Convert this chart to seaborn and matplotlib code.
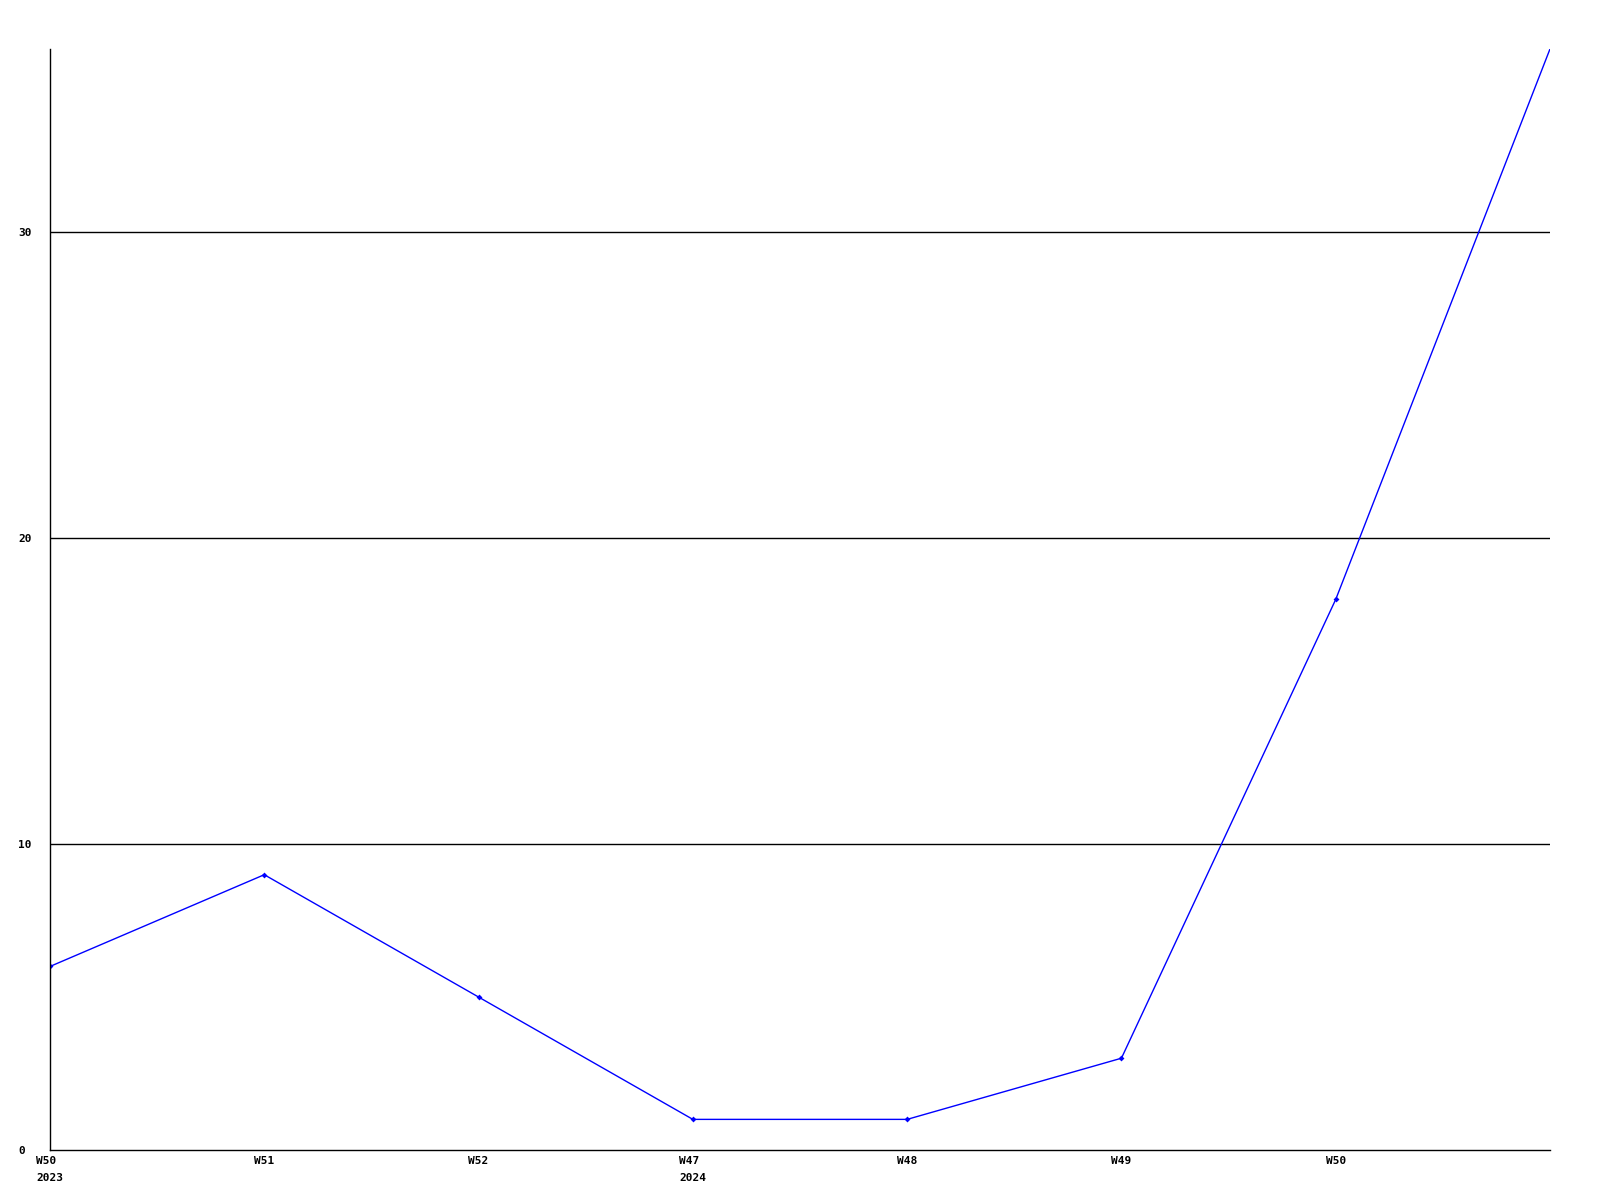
import matplotlib
matplotlib.use("Agg")
import matplotlib.pyplot as plt
import seaborn as sns
import pandas as pd

# Données
weeks = ["W50\n2023", "W51", "W52", "W47\n2024", "W48", "W49", "W50", ""]
values = [6, 9, 5, 1, 1, 3, 18, 36]
y_ticks = [0, 10, 20, 30]

df = pd.DataFrame({"pos": range(len(values)), "value": values})

sns.set_style("white")
plt.rcParams['font.family'] = ['DejaVu Sans Mono']
plt.rcParams['font.weight'] = 'bold'
plt.rcParams['text.color'] = 'black'
plt.rcParams['xtick.color'] = 'black'
plt.rcParams['ytick.color'] = 'black'

fig = plt.figure(figsize=(16, 12), dpi=100)
ax = fig.add_axes([0.03125, 0.0417, 0.9375, 0.9175])

sns.lineplot(data=df, x="pos", y="value", ax=ax, color='#0000ff', linewidth=1,
             marker='D', markersize=3, markeredgewidth=0,
             markevery=list(range(len(values) - 1)))

for v in y_ticks[1:]:
    ax.axhline(v, color='black', linewidth=1, zorder=0)

ax.set_xlim(0, len(values) - 1)
ax.set_ylim(0, 36)
ax.set_xticks(range(len(weeks) - 1))
ax.set_xticklabels(weeks[:-1], fontsize=8, fontweight='bold',
                   multialignment='left', linespacing=1.9)
ax.set_yticks(y_ticks)
ax.set_yticklabels([str(t) for t in y_ticks], fontsize=8, fontweight='bold', ha='left')
ax.tick_params(axis='both', length=0)
ax.tick_params(axis='x', pad=4)
ax.tick_params(axis='y', pad=23)
ax.set_xlabel('')
ax.set_ylabel('')

for s in ['top', 'right']:
    ax.spines[s].set_visible(False)
for s in ['left', 'bottom']:
    ax.spines[s].set_color('black')
    ax.spines[s].set_linewidth(1)

plt.savefig("out.png", dpi=100)
